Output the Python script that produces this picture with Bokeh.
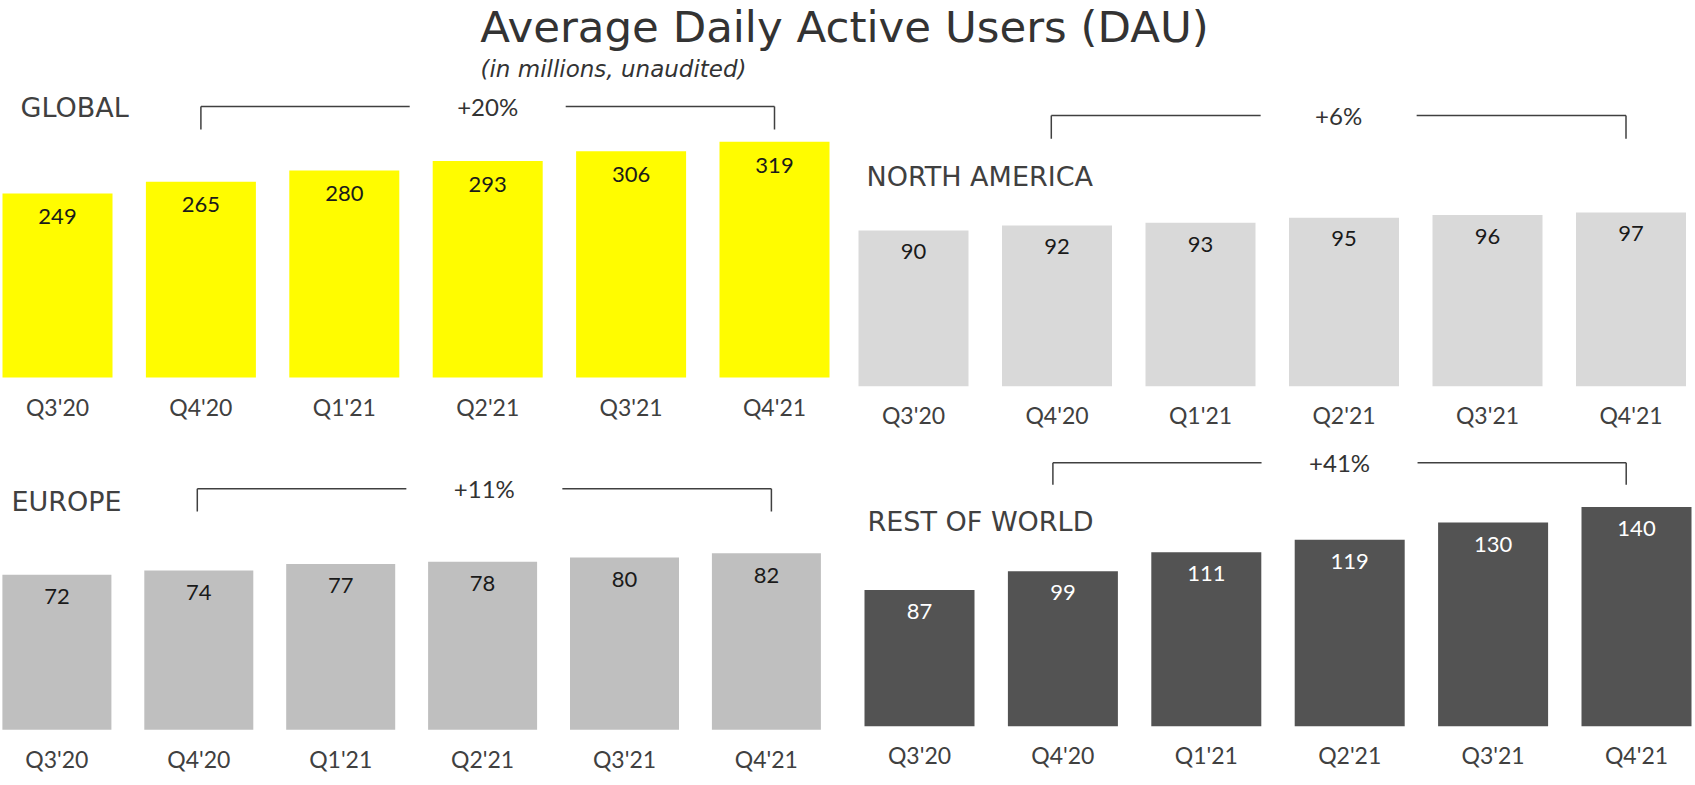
import numpy as np
from bokeh.plotting import figure
from bokeh.models import Range1d, FixedTicker
from bokeh.layouts import column, row
from bokeh.embed import file_html
from bokeh.resources import INLINE
from bokeh.core.properties import value

# ---------------- data ----------------
quarters = ["Q3'20", "Q4'20", "Q1'21", "Q2'21", "Q3'21", "Q4'21"]
global_dau = [249, 265, 280, 293, 306, 319]
north_america_dau = [90, 92, 93, 95, 96, 97]
europe_dau = [72, 74, 77, 78, 80, 82]
rest_of_world_dau = [87, 99, 111, 119, 130, 140]
region_names = ["GLOBAL", "NORTH AMERICA", "EUROPE", "REST OF WORLD"]
growth_labels = ["+20%", "+6%", "+11%", "+41%"]
title_text = "Average Daily Active Users (DAU)"
subtitle_text = "(in millions, unaudited)"

# ---------------- layout / style (page pixels) ----------------
FONT = "Lato"
TITLE_FONT = "DejaVu Sans"
REGION_FONT = "DejaVu Sans"
TEXT_DARK = "#333333"
LABEL_COL = "#404040"
LINE_COL = "#404040"

TOTAL_W = 1695
TITLE_H = 86
TOP_H = 440 - TITLE_H
BOT_H = 785 - 440
LEFT_W = 845
RIGHT_W = TOTAL_W - LEFT_W
TOP_FRAME_BOTTOM = 386
BOT_FRAME_BOTTOM = 730
BASE_SHIFT = 0.35  # em, correction for text anchor vs. alphabetic baseline

specs = [
    dict(left=0, top=TITLE_H, width=LEFT_W, height=TOP_H, fb=TOP_FRAME_BOTTOM,
         c0=57, pitch=143.4, barw=110, base_y=377, base_val=0, ppu=0.739,
         color="#FFFC00", vcolor="#1a1a1a", vbase=31,
         lab_left=20, lab_base=116.7, br_y=106, br_bot=129, sl=0, sr=0, cat_top=400),
    dict(left=LEFT_W, top=TITLE_H, width=RIGHT_W, height=TOP_H, fb=TOP_FRAME_BOTTOM,
         c0=913, pitch=143.5, barw=110, base_y=386, base_val=29.7, ppu=2.585,
         color="#D9D9D9", vcolor="#1a1a1a", vbase=29,
         lab_left=866, lab_base=185.7, br_y=115, br_bot=138.3, sl=-5.7, sr=-5, cat_top=408.3),
    dict(left=0, top=440, width=LEFT_W, height=BOT_H, fb=BOT_FRAME_BOTTOM,
         c0=56.4, pitch=141.9, barw=109, base_y=729.3, base_val=0, ppu=2.154,
         color="#BFBFBF", vcolor="#1a1a1a", vbase=29.7,
         lab_left=11, lab_base=510, br_y=488.3, br_bot=511, sl=-1.5, sr=5, cat_top=752.3),
    dict(left=LEFT_W, top=440, width=RIGHT_W, height=BOT_H, fb=BOT_FRAME_BOTTOM,
         c0=919, pitch=143.4, barw=110, base_y=725.7, base_val=0, ppu=1.566,
         color="#535353", vcolor="#FFFFFF", vbase=29.3,
         lab_left=867, lab_base=530, br_y=462.3, br_bot=484.3, sl=-10, sr=-10.3, cat_top=748.3),
]
series = [global_dau, north_america_dau, europe_dau, rest_of_world_dau]

CAT_FS = 23
VAL_FS = 22
REG_FS = 27
PCT_FS = 24
TITLE_FS = 43.5
SUB_FS = 23
GAP_HALF = 78
CAP_FROM_BOX = 8  # px between axis-label box top and cap top


def anchor(baseline_px, fs):
    return baseline_px - BASE_SHIFT * fs


def base_fig(w, h, xr, yr, bottom=0):
    p = figure(width=w, height=h, x_range=xr, y_range=yr, toolbar_location=None,
               output_backend="svg", min_border_left=0, min_border_right=0,
               min_border_top=0, min_border_bottom=bottom, y_axis_location=None,
               x_axis_location="below" if bottom else None)
    p.outline_line_color = None
    p.background_fill_color = "white"
    p.border_fill_color = "white"
    p.xgrid.visible = False
    p.ygrid.visible = False
    return p


def make_panel(spec, values, name, growth):
    fl, ft, w, h = spec["left"], spec["top"], spec["width"], spec["height"]
    frame_bottom = spec["fb"]
    bb = ft + h - frame_bottom
    ppu, bv, by = spec["ppu"], spec["base_val"], spec["base_y"]
    c0, pitch = spec["c0"], spec["pitch"]

    def Y(py):
        return bv + (by - py) / ppu

    def X(px):
        return (px - c0) / pitch

    p = base_fig(w, h, Range1d(X(fl), X(fl + w)), Range1d(Y(frame_bottom), Y(ft)), bottom=bb)

    idx = list(range(len(quarters)))
    p.vbar(x=idx, top=values, bottom=0, width=spec["barw"] / pitch,
           fill_color=spec["color"], line_color=None)

    # value labels inside the bars
    off = (spec["vbase"] - BASE_SHIFT * VAL_FS) / ppu
    p.text(x=idx, y=[v - off for v in values], text=[str(v) for v in values],
           text_align="center", text_baseline="alphabetic", text_font=value(FONT),
           text_font_size=f"{VAL_FS}px", text_color=spec["vcolor"])

    # region label
    p.text(x=[X(spec["lab_left"])], y=[Y(anchor(spec["lab_base"], REG_FS))], text=[name],
           text_align="left", text_baseline="alphabetic", text_font=value(REGION_FONT),
           text_font_size=f"{REG_FS}px", text_color=LABEL_COL)

    # growth bracket from second quarter to last quarter
    i0, i1 = quarters.index(quarters[1]), quarters.index(quarters[-1])
    x0 = i0 + spec["sl"] / pitch
    x1 = i1 + spec["sr"] / pitch
    xm = (x0 + x1) / 2
    gx0 = xm - GAP_HALF / pitch
    gx1 = xm + GAP_HALF / pitch
    yl, yb = Y(spec["br_y"]), Y(spec["br_bot"])
    p.segment(x0=[x0, gx1, x0, x1], y0=[yl, yl, yl, yl], x1=[gx0, x1, x0, x1], y1=[yl, yl, yb, yb],
              line_color=LINE_COL, line_width=1.5)
    p.text(x=[xm], y=[Y(anchor(spec["br_y"] + 8.5, PCT_FS))], text=[growth], text_align="center",
           text_baseline="alphabetic", text_font=value(FONT), text_font_size=f"{PCT_FS}px",
           text_color=TEXT_DARK)

    # category axis
    ax = p.xaxis[0]
    ax.ticker = FixedTicker(ticks=idx)
    ax.major_label_overrides = {i: q for i, q in enumerate(quarters)}
    ax.axis_line_color = None
    ax.major_tick_line_color = None
    ax.minor_tick_line_color = None
    ax.major_tick_in = 0
    ax.major_tick_out = 0
    ax.major_label_standoff = int(round(spec["cat_top"] - frame_bottom - CAP_FROM_BOX))
    ax.major_label_text_font = FONT
    ax.major_label_text_font_size = f"{CAT_FS}px"
    ax.major_label_text_color = LABEL_COL
    return p


panels = [make_panel(s, v, n, g) for s, v, n, g in zip(specs, series, region_names, growth_labels)]

# title strip (page-pixel coordinates, y downwards)
t = base_fig(TOTAL_W, TITLE_H, Range1d(0, TOTAL_W), Range1d(TITLE_H, 0))
t.text(x=[844], y=[anchor(42, TITLE_FS)], text=[title_text], text_align="center",
       text_baseline="alphabetic", text_font=value(TITLE_FONT), text_font_size=f"{TITLE_FS}px",
       text_color=TEXT_DARK)
t.text(x=[480], y=[anchor(76.7, SUB_FS)], text=[subtitle_text], text_align="left",
       text_baseline="alphabetic", text_font=value(TITLE_FONT), text_font_size=f"{SUB_FS}px",
       text_font_style="italic", text_color=TEXT_DARK)

layout = column(t, row(panels[0], panels[1]), row(panels[2], panels[3]))

open("out.html", "w").write(file_html(layout, INLINE))
